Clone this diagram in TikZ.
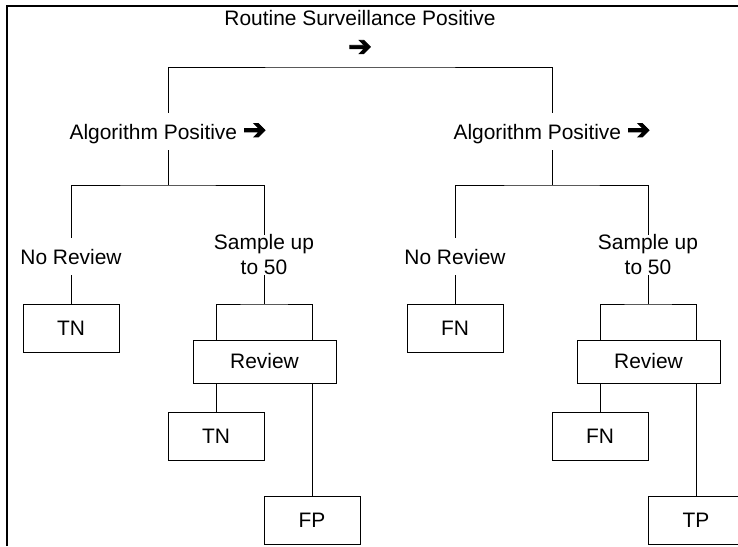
\documentclass[tikz,border=0pt]{standalone}
\usepackage{fontspec}
\setmainfont{Liberation Sans}
\newfontfamily\arrowfont[FakeBold=3]{DejaVu Sans}
\newcommand{\heavyarrow}{{\arrowfont\fontsize{21}{21}\selectfont ➔}}
\begin{document}
\begin{tikzpicture}[x=0.75pt,y=-0.75pt]
\tikzset{
  lbl/.style={font=\fontsize{15.7}{18.75}\selectfont, inner sep=0pt, align=center},
  one/.style={lbl, text height=11.3pt, text depth=0pt, minimum height=27.75pt},
  box/.style={draw, line width=0.75pt, inner sep=0pt, minimum width=72pt,
              minimum height=36pt, font=\fontsize{15.7}{18.75}\selectfont},
  wire/.style={line width=0.75pt},
  frame/.style={line width=1.2pt}
}
\useasboundingbox (0,0) rectangle (738,546);

% outer frame (top and left edges)
\draw[frame] (7,546) -- (7,6) -- (738,6);

% root
\node[lbl, text height=11.3pt, text depth=0pt] (title) at (360,18) {Routine Surveillance Positive};
\node[inner sep=0pt] (toparrow) at (360,48) {\heavyarrow};

\coordinate (topbar) at (360,67);
\node[one] (algL) at (168,131.5) {Algorithm Positive \heavyarrow};
\node[one] (algR) at (552,131.5) {Algorithm Positive \heavyarrow};
\draw[wire] (algL.north) |- (topbar) -| (algR.north);

% the two identical sub-trees
\foreach \s/\dx/\a/\b/\c in {L/0/TN/TN/FP, R/384/FN/FN/TP} {
  \coordinate (j\s) at (\dx+168,185);
  \draw[wire] (alg\s.south) -- (j\s);
  \node[one] (norev\s) at (\dx+71,256.5) {No Review};
  \node[lbl, minimum height=30pt] (samp\s) at (\dx+264,255) {Sample up\\to 50};
  \draw[wire] (norev\s.north) |- (j\s) -| (samp\s.north);

  \node[box] (first\s) at (\dx+71,328) {\a};
  \draw[wire] (norev\s.south) -- (first\s.north);

  \node[box, minimum width=107.25pt, minimum height=32.25pt] (rev\s) at (\dx+264.5,361.5) {Review};
  \node[box] (second\s) at (\dx+216,436) {\b};
  \node[box] (third\s) at (\dx+312,520) {\c};

  \coordinate (k\s) at (\dx+264,304);
  \draw[wire] (samp\s.south) -- (k\s);
  \draw[wire] (rev\s.north -| second\s) |- (k\s) -| (rev\s.north -| third\s);
  \draw[wire] (rev\s.south -| second\s) -- (second\s.north);
  \draw[wire] (rev\s.south -| third\s) -- (third\s.north);
}
\end{tikzpicture}
\end{document}
